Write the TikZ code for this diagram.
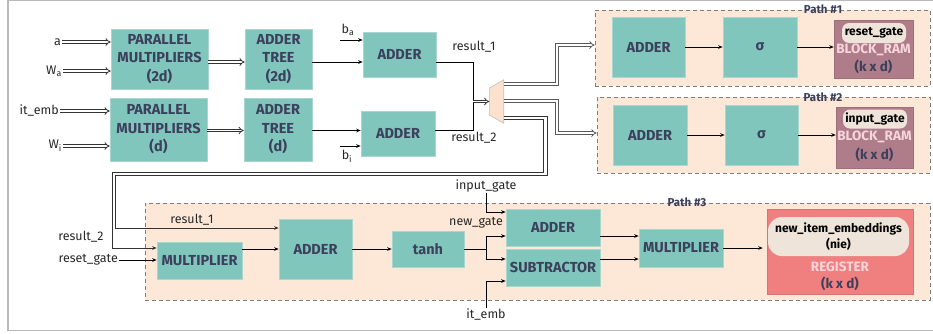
\documentclass[tikz,border=0pt]{standalone}
\usepackage{fontspec}
\setmainfont{Fira Sans}
\usepackage{xcolor}
\usetikzlibrary{arrows.meta,positioning,calc}
\definecolor{tealbox}{RGB}{128,198,189}
\definecolor{tealedge}{RGB}{170,214,207}
\definecolor{ink}{RGB}{60,64,92}
\definecolor{peach}{RGB}{253,232,215}
\definecolor{dashc}{RGB}{125,125,125}
\definecolor{mauve}{RGB}{175,124,137}
\definecolor{pillc}{RGB}{238,228,218}
\definecolor{salmon}{RGB}{240,128,127}
\definecolor{memlight}{RGB}{246,214,220}
\definecolor{muxc}{RGB}{252,226,206}
\definecolor{framec}{RGB}{185,185,185}

\begin{document}
\begin{tikzpicture}[x=1pt, y=-1pt,
  blk/.style={fill=tealbox, draw=tealedge, line width=0.6pt, text=ink, align=center,
              font=\bfseries\fontsize{14.5}{18.5}\selectfont, inner sep=0pt},
  grp/.style={fill=peach, draw=dashc, dash pattern=on 4pt off 3pt, line width=0.9pt, inner sep=0pt},
  grplbl/.style={text=ink, font=\bfseries\fontsize{11.5}{12}\selectfont, inner sep=1pt},
  mem/.style={inner sep=0pt, line width=0.5pt},
  pill/.style={fill=pillc, rounded corners=7pt, inner sep=0pt, align=center, text=black,
               font=\bfseries\fontsize{12}{16}\selectfont},
  memtxt/.style={font=\bfseries\fontsize{13.5}{14}\selectfont, inner sep=0pt},
  lbl/.style={font=\fontsize{12.5}{14}\selectfont, inner sep=1pt, text=black!85},
  wire/.style={line width=0.8pt},
  arr/.style={wire, -{Stealth[length=4.5pt,width=3.6pt]}},
  dbl/.style={double=white, double distance=1.8pt, line width=0.8pt, draw=black!80, -{Implies}},
  dblg/.style={dbl, draw=black!65}
]
\useasboundingbox (0,0) rectangle (933,333);
\draw[framec, line width=1.2pt] (933,0.8) -- (8,0.8) -- (8,330.5) -- (933,330.5);

\node[grp, minimum width=335pt, minimum height=76pt] (path1) at (762.5,48) {};
\node[grp, minimum width=333pt, minimum height=76pt] (path2) at (763.5,135) {};
\node[grp, minimum width=785pt, minimum height=97pt] (path3) at (537.5,251.5) {};
\node[grplbl] (path1lbl) at (823,9) {Path \#1};
\node[grplbl] (path2lbl) at (823,97) {Path \#2};
\node[grplbl] (path3lbl) at (687,202) {Path \#3};

\node[blk, minimum width=97pt, minimum height=60pt] (pm1) at (159.5,59) {PARALLEL\\MULTIPLIERS\\(2d)};
\node[blk, minimum width=67pt, minimum height=60pt] (at1) at (278.5,59) {ADDER\\TREE\\(2d)};
\node[blk, minimum width=97pt, minimum height=63pt] (pm2) at (158.5,129.5) {PARALLEL\\MULTIPLIERS\\(d)};
\node[blk, minimum width=68pt, minimum height=63pt] (at2) at (278,129.5) {ADDER\\TREE\\(d)};
\node[blk, minimum width=73pt, minimum height=45pt] (add1) at (399.5,54.5) {ADDER};
\node[blk, minimum width=74pt, minimum height=45pt] (add2) at (398,133.5) {ADDER};

\node[lbl, anchor=east] (ina) at (62,42) {a};
\node[lbl, anchor=east] (inwa) at (63,71) {W\textsubscript{a}};
\node[lbl, anchor=east] (inemb) at (60,111) {it\_emb};
\node[lbl, anchor=east] (inwi) at (63,146) {W\textsubscript{i}};
\node[lbl] (ba) at (348,30) {b\textsubscript{a}};
\node[lbl] (bi) at (347,156) {b\textsubscript{i}};
\node[lbl] (res1) at (474,47) {result\_1};
\node[lbl] (res2) at (474,138) {result\_2};
\coordinate (bain) at (340,40);
\coordinate (biin) at (340,146);
\coordinate (merge) at (473,101.5);

\node[minimum width=14pt, minimum height=43pt, inner sep=0pt] (mux) at (496.5,101.5) {};
\draw[fill=muxc, draw=black!25, line width=0.6pt] ([yshift=13.5pt]mux.west) -- (mux.north east)
  -- (mux.south east) -- ([yshift=-13.5pt]mux.west) -- cycle;

\node[blk, minimum width=73pt, minimum height=60pt] (p1add) at (648.5,47) {ADDER};
\node[blk, minimum width=74pt, minimum height=60pt] (p1sig) at (760,47) {σ};
\node[mem, fill=mauve, draw=mauve!90!black, minimum width=79pt, minimum height=58pt] (bram1) at (873.5,49) {};
\node[pill, minimum width=64pt, minimum height=20pt] (rgate) at (874,33) {reset\_gate};
\node[memtxt, text=memlight] (bram1t) at (873.5,50) {BLOCK\_RAM};
\node[memtxt, text=ink] (bram1k) at (873.5,67) {(k x d)};

\node[blk, minimum width=74pt, minimum height=60pt] (p2add) at (650,135) {ADDER};
\node[blk, minimum width=73pt, minimum height=60pt] (p2sig) at (761.5,135) {σ};
\node[mem, fill=mauve, draw=mauve!90!black, minimum width=77pt, minimum height=61pt] (bram2) at (874.5,137.5) {};
\node[pill, minimum width=64pt, minimum height=19pt] (igate) at (875,119) {input\_gate};
\node[memtxt, text=memlight] (bram2t) at (874.5,137) {BLOCK\_RAM};
\node[memtxt, text=ink] (bram2k) at (874.5,155) {(k x d)};

\node[blk, minimum width=85pt, minimum height=37pt] (mult1) at (199.5,260.5) {MULTIPLIER};
\node[blk, minimum width=73pt, minimum height=60pt] (add3) at (315.5,249) {ADDER};
\node[blk, minimum width=72pt, minimum height=36pt] (tanh) at (428,249) {tanh};
\node[blk, minimum width=94pt, minimum height=37pt] (add4) at (553,227.5) {ADDER};
\node[blk, minimum width=94pt, minimum height=37pt] (sub) at (553,267.5) {SUBTRACTOR};
\node[blk, minimum width=84pt, minimum height=38pt] (mult2) at (681,248) {MULTIPLIER};
\node[mem, fill=salmon, draw=salmon!90!black, minimum width=146pt, minimum height=85pt] (reg) at (840,251.5) {};
\node[pill, minimum width=141pt, minimum height=39pt, rounded corners=14pt] (nie) at (838.5,236.5) {new\_item\_embeddings\\(nie)};
\node[memtxt, text=memlight] (regt) at (840,267) {REGISTER};
\node[memtxt, text=ink] (regk) at (840,284) {(k x d)};

\node[lbl] (r1lbl) at (192,220) {result\_1};
\node[lbl] (r2lbl) at (81,237) {result\_2};
\node[lbl, anchor=east] (rglbl) at (119,260) {reset\_gate};
\node[lbl] (iglbl) at (486,186) {input\_gate};
\node[lbl] (nglbl) at (476,223) {new\_gate};
\node[lbl] (embl) at (486,315) {it\_emb};
\coordinate (fork) at (486,249);

\draw[dbl] (ina.east) -- (ina.east -| pm1.west);
\draw[dbl] (inwa.east) -- (inwa.east -| pm1.west);
\draw[dbl] (inemb.east) -- (inemb.east -| pm2.west);
\draw[dbl] (inwi.east) -- (inwi.east -| pm2.west);
\draw[dbl] ([yshift=-3pt]pm1.east) -- ([yshift=-3pt]pm1.east -| at1.west);
\draw[dbl] ([yshift=-1pt]pm2.east) -- ([yshift=-1pt]pm2.east -| at2.west);
\draw[arr] ([yshift=-3pt]at1.east) -- ([yshift=-3pt]at1.east -| add1.west);
\draw[arr] ([yshift=-1pt]at2.east) -- ([yshift=-1pt]at2.east -| add2.west);
\draw[arr] (bain) -- (bain -| add1.west);
\draw[arr] (biin) -- (biin -| add2.west);
\draw[wire] ([yshift=-7.5pt]add1.east) -| (merge);
\draw[wire] ([yshift=3pt]add2.east) -| (merge);
\draw[dbl] (merge) -- (mux.west);

\draw[dblg] ([yshift=17.5pt]mux.east) -- (557,84) -- (557,45) -- (path1.west |- 557,45);
\draw[dblg] ([yshift=0.5pt]mux.east) -- (557,101) -- (557,133) -- (path2.west |- 557,133);
\draw[arr, draw=black!80] ([yshift=-15pt]mux.east) -| (547,175) -| ([yshift=21pt]add3.west -| 115,0) -- ([yshift=21pt]add3.west);
\draw[arr, draw=black!80] ([yshift=-18pt]mux.east) -| (543,172) -| ([yshift=12.5pt]mult1.west -| 112,0) -- ([yshift=12.5pt]mult1.west);

\draw[arr] (p1add) -- (p1sig);
\draw[arr] (p1sig.east) -- (p1sig.east -| bram1.west);
\draw[arr] (p2add) -- (p2sig);
\draw[arr] (p2sig.east) -- (p2sig.east -| bram2.west);

\draw[arr] (rglbl.east) -- (rglbl.east -| mult1.west);
\draw[arr] (add3.west -| mult1.east) -- (add3.west);
\draw[arr] (add3) -- (tanh);
\draw[wire] (tanh.east) -- (fork);
\draw[arr] (fork) |- ([yshift=-8.5pt]add4.west);
\draw[arr] (fork) |- ([yshift=8.5pt]sub.west);
\draw[arr] (iglbl.south) |- ([yshift=15.5pt]add4.west);
\draw[arr] (embl.north) |- ([yshift=-13.5pt]sub.west);
\draw[arr] ([yshift=-8.5pt]add4.east) -- ([yshift=-8.5pt]add4.east -| mult2.west);
\draw[arr] ([yshift=8.5pt]sub.east) -- ([yshift=8.5pt]sub.east -| mult2.west);
\draw[arr, shorten >=4pt] (mult2) -- (mult2 -| reg.west);
\end{tikzpicture}
\end{document}
